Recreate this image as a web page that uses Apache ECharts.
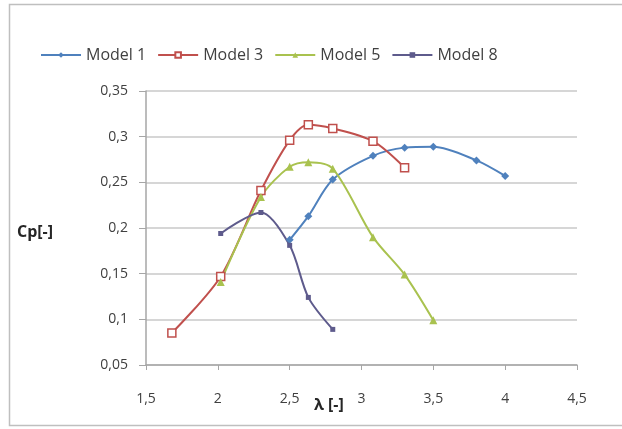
<!DOCTYPE html>
<html>
<head>
<meta charset="utf-8">
<script src="https://cdn.jsdelivr.net/npm/echarts@6/dist/echarts.min.js"></script>
<style>
html,body{margin:0;padding:0;background:#fff;}
#chart{width:622px;height:429px;}
</style>
</head>
<body>
<div id="chart"></div>
<script>
const seriesNames = ['Model 1', 'Model 3', 'Model 5', 'Model 8'];
const model1X = [2.5, 2.63, 2.8, 3.08, 3.3, 3.5, 3.8, 4.0];
const model1Y = [0.187, 0.213, 0.253, 0.279, 0.288, 0.289, 0.274, 0.257];
const model3X = [1.68, 2.02, 2.3, 2.5, 2.63, 2.8, 3.08, 3.3];
const model3Y = [0.085, 0.147, 0.241, 0.296, 0.313, 0.309, 0.295, 0.266];
const model5X = [2.02, 2.3, 2.5, 2.63, 2.8, 3.08, 3.3, 3.5];
const model5Y = [0.141, 0.234, 0.267, 0.272, 0.265, 0.19, 0.149, 0.099];
const model8X = [2.02, 2.3, 2.5, 2.63, 2.8];
const model8Y = [0.194, 0.217, 0.181, 0.124, 0.089];
const xTicks = [1.5, 2, 2.5, 3, 3.5, 4, 4.5];
const yTicks = [0.05, 0.1, 0.15, 0.2, 0.25, 0.3, 0.35];

function pairs(xs, ys) { return xs.map((x, i) => [x, ys[i]]); }
function fmt(v) { return String(parseFloat(v.toFixed(4))).replace('.', ','); }

const colors = ['#4F81BD', '#C0504D', '#A9C24F', '#5E5B8C'];
const labelFont = 'Open Sans, Liberation Sans, sans-serif';

const chart = echarts.init(document.getElementById('chart'));
function mk(name, xs, ys, color, symbol, size, fill) {
  return {
    name: name, type: 'line', smooth: 0.3,
    data: pairs(xs, ys),
    symbol: symbol, symbolSize: size,
    lineStyle: { color: color, width: 2 },
    itemStyle: { color: fill || color, borderColor: color, borderWidth: fill ? 1.5 : 0 },
    emphasis: { disabled: true }
  };
}
chart.setOption({
  animation: false,
  color: colors,
  graphic: [{
    type: 'rect', shape: { x: 9.5, y: 4.5, width: 630, height: 421 },
    style: { fill: 'none', stroke: '#BFBFBF', lineWidth: 1.5 }, z: -1
  }, {
    type: 'text', left: 17, top: 224,
    style: { text: 'Cp[-]', font: 'bold 16px ' + labelFont, fill: '#262626' }
  }, {
    type: 'text', left: 314, top: 397,
    style: { text: 'λ [-]', font: 'bold 16px ' + labelFont, fill: '#262626' }
  }],
  legend: {
    left: 35, top: 42, itemWidth: 40, itemHeight: 7, itemGap: 11,
    textStyle: { fontSize: 16, color: '#404040', fontFamily: labelFont },
    data: seriesNames
  },
  grid: { left: 146, right: 45, top: 91, bottom: 64 },
  xAxis: {
    type: 'value', min: 1.5, max: 4.5, interval: 0.5,
    axisLine: { lineStyle: { color: '#A6A6A6', width: 1.5 } },
    axisTick: { show: true, length: 5, lineStyle: { color: '#A6A6A6' } },
    axisLabel: { formatter: fmt, fontSize: 14, color: '#404040', fontFamily: labelFont, margin: 27 },
    splitLine: { show: false }
  },
  yAxis: {
    type: 'value', min: 0.05, max: 0.35, interval: 0.05,
    axisLine: { show: true, lineStyle: { color: '#A6A6A6', width: 1.5 } },
    axisTick: { show: true, length: 7, lineStyle: { color: '#A6A6A6' } },
    axisLabel: { formatter: fmt, fontSize: 14, color: '#404040', fontFamily: labelFont, margin: 18 },
    splitLine: { lineStyle: { color: '#C8C8C8', width: 1.5 } }
  },
  series: [
    mk(seriesNames[0], model1X, model1Y, colors[0], 'diamond', 8),
    mk(seriesNames[1], model3X, model3Y, colors[1], 'rect', 8, '#ffffff'),
    mk(seriesNames[2], model5X, model5Y, colors[2], 'triangle', 8),
    mk(seriesNames[3], model8X, model8Y, colors[3], 'rect', 5)
  ]
});
</script>
</body>
</html>
